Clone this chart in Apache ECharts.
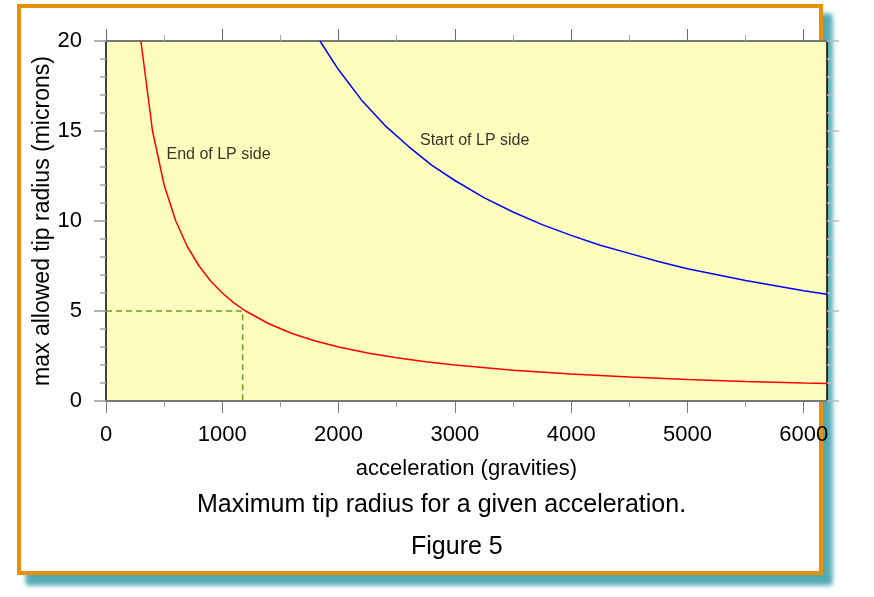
<!DOCTYPE html>
<html>
<head>
<meta charset="utf-8">
<script src="https://cdn.jsdelivr.net/npm/echarts@6/dist/echarts.min.js"></script>
<style>
html,body{margin:0;padding:0;background:#fff;}
#main{width:874px;height:597px;}
</style>
</head>
<body>
<div id="main"></div>
<script>
// ---- data ----
var endAccel  = [300, 400, 500, 600, 700, 800, 900, 1000, 1100, 1200, 1400, 1600, 1800, 2000, 2250, 2500, 2750, 3000, 3500, 4000, 4500, 5000, 5500, 6000, 6200];
var endRadius = [20, 15, 12, 10, 8.57, 7.5, 6.67, 6, 5.45, 5, 4.29, 3.75, 3.33, 3, 2.67, 2.4, 2.18, 2, 1.71, 1.5, 1.33, 1.2, 1.09, 1, 0.97];

var startAccel  = [1840, 2000, 2200, 2400, 2600, 2800, 3000, 3250, 3500, 3750, 4000, 4250, 4500, 4750, 5000, 5500, 6000, 6200];
var startRadius = [20, 18.4, 16.7, 15.3, 14.15, 13.1, 12.25, 11.3, 10.5, 9.8, 9.2, 8.65, 8.2, 7.75, 7.35, 6.7, 6.13, 5.93];

var guideAccel  = [0, 1175, 1175];
var guideRadius = [5, 5, 0];

var annotText  = ['End of LP side', 'Start of LP side'];
var annotAccel = [520, 2700];
var annotRadius = [13.67, 14.44];

var xMajorTicks = [0, 1000, 2000, 3000, 4000, 5000, 6000];
var xMinorTicks = [500, 1500, 2500, 3500, 4500, 5500];

var xName = 'acceleration (gravities)';
var yName = 'max allowed tip radius (microns)';
var captionText = 'Maximum tip radius for a given acceleration.';
var figureText = 'Figure 5';

function pairs(xs, ys){ return xs.map(function(x,i){ return [x, ys[i]]; }); }
function plain(v){ return String(v); }

var FONT = '"Liberation Sans", Arial, Helvetica, sans-serif';

var chart = echarts.init(document.getElementById('main'), null, {renderer:'canvas'});

var xBase = { type:'value', min:0, max:6200, splitLine:{show:false} };

chart.setOption({
  animation:false,
  backgroundColor:'#ffffff',
  textStyle:{fontFamily:FONT},
  graphic:[
    {type:'rect', z:-10, zlevel:0, silent:true,
     shape:{x:19, y:6, width:802, height:567},
     style:{fill:'#fefefe', stroke:'#e8900c', lineWidth:4,
            shadowBlur:5, shadowOffsetX:9, shadowOffsetY:10, shadowColor:'rgba(40,150,160,0.8)'}},
    {type:'rect', z:-9, zlevel:0, silent:true,
     shape:{x:19, y:6, width:802, height:567},
     style:{fill:'#fefefe', stroke:'#e8900c', lineWidth:4}},
    {type:'text', z:10, left:197, top:493, silent:true,
     style:{text:captionText, font:'25px ' + FONT, fill:'#000'}},
    {type:'text', z:10, top:535, silent:true, left:411,
     style:{text:figureText, font:'25px ' + FONT, fill:'#000'}}
  ],
  grid:{left:106, right:47, top:41, bottom:196, show:true, backgroundColor:'#fdfdbd', borderWidth:0},
  xAxis:[
    Object.assign({}, xBase, {
      position:'bottom',
      name:xName, nameLocation:'middle', nameGap:57, nameMoveOverlap:false,
      nameTextStyle:{fontSize:22, color:'#000', fontFamily:FONT},
      axisLine:{show:true, onZero:false, lineStyle:{color:'#777', width:2}},
      axisTick:{show:true, inside:false, length:12, customValues:xMajorTicks, lineStyle:{color:'#777', width:1}},
      axisLabel:{show:true, customValues:xMajorTicks, formatter:plain, fontSize:22, color:'#000', margin:23, fontFamily:FONT}
    }),
    Object.assign({}, xBase, {
      position:'bottom',
      axisLine:{show:false, onZero:false},
      axisTick:{show:true, inside:false, length:6, customValues:xMinorTicks, lineStyle:{color:'#999', width:1}},
      axisLabel:{show:false}
    }),
    Object.assign({}, xBase, {
      position:'top',
      axisLine:{show:true, onZero:false, lineStyle:{color:'#777', width:2}},
      axisTick:{show:true, inside:false, length:12, customValues:xMajorTicks, lineStyle:{color:'#666', width:1}},
      axisLabel:{show:false}
    }),
    Object.assign({}, xBase, {
      position:'top',
      axisLine:{show:false, onZero:false},
      axisTick:{show:true, inside:false, length:6, customValues:xMinorTicks, lineStyle:{color:'#aaa', width:1}},
      axisLabel:{show:false}
    })
  ],
  yAxis:[
    {type:'value', position:'left', min:0, max:20, interval:5,
     name:yName, nameLocation:'middle', nameGap:52, nameMoveOverlap:false,
     nameTextStyle:{fontSize:23, color:'#000', fontFamily:FONT},
     splitLine:{show:false},
     axisLine:{show:true, onZero:false, lineStyle:{color:'#000', width:1.5}},
     axisTick:{show:true, inside:false, length:12, lineStyle:{color:'#999', width:1.5}},
     minorTick:{show:true, splitNumber:5, length:6, lineStyle:{color:'#aaa', width:1.5}},
     minorSplitLine:{show:false},
     axisLabel:{fontSize:22, color:'#000', margin:24, formatter:plain, fontFamily:FONT}
    },
    {type:'value', position:'right', min:0, max:20, interval:5,
     splitLine:{show:false},
     axisLine:{show:true, onZero:false, lineStyle:{color:'#000', width:1.5}},
     axisTick:{show:true, inside:false, length:12, lineStyle:{color:'#bbb', width:1.5}},
     minorTick:{show:true, splitNumber:5, length:6, lineStyle:{color:'#bbb', width:1.5}},
     minorSplitLine:{show:false},
     axisLabel:{show:false}
    }
  ],
  series:[
    {type:'line', name:'guide', xAxisIndex:0, yAxisIndex:0, data:pairs(guideAccel, guideRadius),
     showSymbol:false, symbol:'none', lineStyle:{color:'#6b9a2c', width:1.5, type:[6,4]}, z:3},
    {type:'line', name:'End of LP side', xAxisIndex:0, yAxisIndex:0, data:pairs(endAccel, endRadius),
     showSymbol:false, symbol:'none', lineStyle:{color:'#ff0000', width:1.5}, z:4},
    {type:'line', name:'Start of LP side', xAxisIndex:0, yAxisIndex:0, data:pairs(startAccel, startRadius),
     showSymbol:false, symbol:'none', lineStyle:{color:'#0000ff', width:1.5}, z:4},
    {type:'scatter', name:'labels', xAxisIndex:0, yAxisIndex:0, symbolSize:0, z:5,
     data:annotAccel.map(function(x,i){ return {value:[x, annotRadius[i]], name:annotText[i]}; }),
     label:{show:true, position:'right', distance:0, formatter:'{b}', fontSize:16, color:'#000', fontFamily:FONT}
    }
  ]
});
</script>
</body>
</html>
